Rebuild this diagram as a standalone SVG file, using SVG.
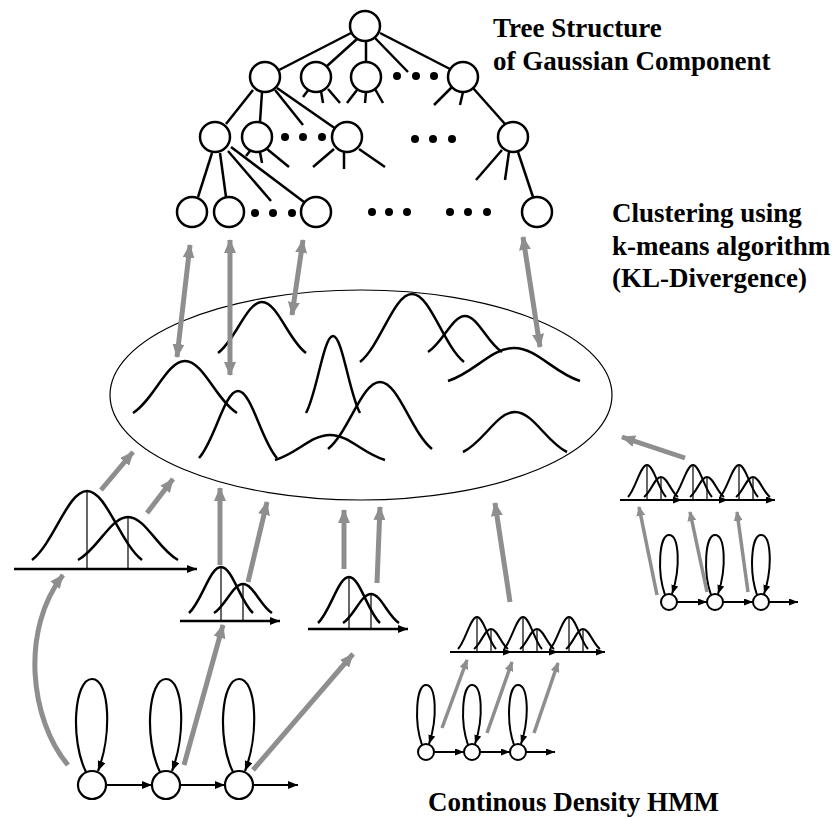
<svg xmlns="http://www.w3.org/2000/svg" width="838" height="819" viewBox="0 0 838 819">
<style>
.nd{fill:#fff;stroke:#000;stroke-width:2.5}
.ed{stroke:#000;stroke-width:2.5;fill:none}
.dot{fill:#000}
.gc{stroke:#000;stroke-width:2.5;fill:none}
.gcs{stroke:#000;stroke-width:2;fill:none}
.vl{stroke:#000;stroke-width:1.2}
.ax{stroke:#000;stroke-width:2.5;marker-end:url(#bh)}
.axs{stroke:#000;stroke-width:2;marker-end:url(#bhs)}
.ga{stroke:#8e8e8e;stroke-width:5;fill:none;marker-end:url(#gh)}
.gd{stroke:#8e8e8e;stroke-width:5;fill:none;marker-start:url(#gh);marker-end:url(#gh)}
.gm{stroke:#8e8e8e;stroke-width:3.5;fill:none;marker-end:url(#ghs)}
.hs{fill:#fff;stroke:#000;stroke-width:2.2}
.lp{fill:none;stroke:#000;stroke-width:2.2;marker-end:url(#bh)}
.lps{fill:none;stroke:#000;stroke-width:2;marker-end:url(#bhs)}
.tr{stroke:#000;stroke-width:2.2;marker-end:url(#bh)}
.trs{stroke:#000;stroke-width:2;marker-end:url(#bhs)}
</style>
<defs>
<marker id="gh" viewBox="0 0 14 12" markerWidth="14" markerHeight="12" refX="13" refY="6" orient="auto-start-reverse" markerUnits="userSpaceOnUse"><path d="M0 0L14 6L0 12z" fill="#8e8e8e"/></marker>
<marker id="ghs" viewBox="0 0 10 9" markerWidth="10" markerHeight="9" refX="9" refY="4.5" orient="auto" markerUnits="userSpaceOnUse"><path d="M0 0L10 4.5L0 9z" fill="#8e8e8e"/></marker>
<marker id="bh" viewBox="0 0 10 8" markerWidth="10" markerHeight="8" refX="10" refY="4" orient="auto" markerUnits="userSpaceOnUse"><path d="M0 0L10 4L0 8z" fill="#000"/></marker>
<marker id="bhs" viewBox="0 0 9 7" markerWidth="9" markerHeight="7" refX="9" refY="3.5" orient="auto" markerUnits="userSpaceOnUse"><path d="M0 0L9 3.5L0 7z" fill="#000"/></marker>
<path id="gs" d="M-1 0C-0.6 -0.25 -0.35 -1 0 -1C0.35 -1 0.6 -0.25 1 0" vector-effect="non-scaling-stroke"/>
<g id="row">
<line class="axs" x1="0" y1="0" x2="62" y2="0"/>
<line class="axs" x1="62" y1="0" x2="108" y2="0"/>
<line class="axs" x1="108" y1="0" x2="155" y2="0"/>
<use href="#gs" class="gcs" transform="translate(27 -3) scale(19 32)"/>
<use href="#gs" class="gcs" transform="translate(41 -3) scale(17 20)"/>
<use href="#gs" class="gcs" transform="translate(73 -3) scale(19 32)"/>
<use href="#gs" class="gcs" transform="translate(87 -3) scale(17 20)"/>
<use href="#gs" class="gcs" transform="translate(119 -3) scale(19 32)"/>
<use href="#gs" class="gcs" transform="translate(133 -3) scale(17 20)"/>
<line class="vl" x1="27" y1="-35" x2="27" y2="0"/>
<line class="vl" x1="41" y1="-23" x2="41" y2="0"/>
<line class="vl" x1="73" y1="-35" x2="73" y2="0"/>
<line class="vl" x1="87" y1="-23" x2="87" y2="0"/>
<line class="vl" x1="119" y1="-35" x2="119" y2="0"/>
<line class="vl" x1="133" y1="-23" x2="133" y2="0"/>
</g>
<g id="hmms">
<path class="lps" d="M-4 -7C-12 -30 -10 -67 0 -67C10 -67 12 -35 3 -8"/>
<path class="lps" d="M42 -7C34 -30 36 -67 46 -67C56 -67 58 -35 49 -8"/>
<path class="lps" d="M88 -7C80 -30 82 -67 92 -67C102 -67 104 -35 95 -8"/>
<circle class="hs" cx="0" cy="0" r="8" style="stroke-width:2"/>
<circle class="hs" cx="46" cy="0" r="8" style="stroke-width:2"/>
<circle class="hs" cx="92" cy="0" r="8" style="stroke-width:2"/>
<line class="trs" x1="8" y1="0" x2="38" y2="0"/>
<line class="trs" x1="54" y1="0" x2="84" y2="0"/>
<line class="trs" x1="100" y1="0" x2="129" y2="0"/>
</g>
</defs>

<g id="edges">
<line class="ed" x1="351" y1="33" x2="279" y2="70"/>
<line class="ed" x1="357" y1="39" x2="327" y2="66"/>
<line class="ed" x1="366" y1="41" x2="366" y2="62"/>
<line class="ed" x1="375" y1="38" x2="408" y2="72"/>
<line class="ed" x1="380" y1="33" x2="450" y2="69"/>
<line class="ed" x1="303" y1="97" x2="309" y2="89"/>
<line class="ed" x1="323" y1="103" x2="321" y2="91"/>
<line class="ed" x1="340" y1="103" x2="328" y2="89"/>
<line class="ed" x1="347" y1="103" x2="357" y2="90"/>
<line class="ed" x1="365" y1="103" x2="366" y2="92"/>
<line class="ed" x1="383" y1="103" x2="375" y2="89"/>
<line class="ed" x1="434" y1="105" x2="452" y2="87"/>
<line class="ed" x1="460" y1="105" x2="463" y2="92"/>
<line class="ed" x1="473" y1="88" x2="505" y2="124"/>
<line class="ed" x1="253" y1="90" x2="226" y2="124"/>
<line class="ed" x1="262" y1="92" x2="260" y2="122"/>
<line class="ed" x1="275" y1="90" x2="303" y2="125"/>
<line class="ed" x1="277" y1="88" x2="336" y2="129"/>
<line class="ed" x1="246" y1="156" x2="250" y2="151"/>
<line class="ed" x1="262" y1="163" x2="260" y2="152"/>
<line class="ed" x1="289" y1="167" x2="267" y2="149"/>
<line class="ed" x1="313" y1="167" x2="334" y2="149"/>
<line class="ed" x1="344" y1="169" x2="344" y2="152"/>
<line class="ed" x1="385" y1="167" x2="359" y2="149"/>
<line class="ed" x1="476" y1="180" x2="502" y2="150"/>
<line class="ed" x1="505" y1="180" x2="509" y2="152"/>
<line class="ed" x1="518" y1="152" x2="533" y2="197"/>
<line class="ed" x1="212" y1="153" x2="198" y2="197"/>
<line class="ed" x1="220" y1="153" x2="226" y2="197"/>
<line class="ed" x1="228" y1="151" x2="271" y2="201"/>
<line class="ed" x1="231" y1="147" x2="304" y2="202"/>
</g>

<g id="tree-nodes">
<circle id="root" class="nd" cx="365" cy="26" r="15"/>
<circle id="n1a" class="nd" cx="265" cy="77" r="15"/>
<circle id="n1b" class="nd" cx="316" cy="77" r="15"/>
<circle id="n1c" class="nd" cx="366" cy="77" r="15"/>
<circle id="n1d" class="nd" cx="463" cy="77" r="15"/>
<circle id="n2f" class="nd" cx="215" cy="137" r="15"/>
<circle id="n2g" class="nd" cx="257" cy="137" r="15"/>
<circle id="n2h" class="nd" cx="347" cy="137" r="15"/>
<circle id="n2e" class="nd" cx="513" cy="137" r="15"/>
<circle id="l1" class="nd" cx="192" cy="212" r="15"/>
<circle id="l2" class="nd" cx="229" cy="212" r="15"/>
<circle id="l3" class="nd" cx="316" cy="212" r="15"/>
<circle id="l4" class="nd" cx="537" cy="212" r="15"/>
<g id="dots">
<circle class="dot" cx="397" cy="76" r="4"/><circle class="dot" cx="416" cy="76" r="4"/><circle class="dot" cx="434" cy="76" r="4"/>
<circle class="dot" cx="285" cy="137" r="4"/><circle class="dot" cx="303" cy="137" r="4"/><circle class="dot" cx="322" cy="137" r="4"/>
<circle class="dot" cx="415" cy="139" r="4"/><circle class="dot" cx="433" cy="139" r="4"/><circle class="dot" cx="452" cy="139" r="4"/>
<circle class="dot" cx="255" cy="213" r="4"/><circle class="dot" cx="273" cy="213" r="4"/><circle class="dot" cx="292" cy="213" r="4"/>
<circle class="dot" cx="372" cy="212" r="4"/><circle class="dot" cx="389" cy="212" r="4"/><circle class="dot" cx="407" cy="212" r="4"/>
<circle class="dot" cx="450" cy="212" r="4"/><circle class="dot" cx="468" cy="212" r="4"/><circle class="dot" cx="487" cy="212" r="4"/>
</g>
</g>

<g id="cluster">
<ellipse cx="361" cy="395" rx="251" ry="105" fill="none" stroke="#000" stroke-width="1.2"/>
<use href="#gs" class="gc" transform="translate(262 353) scale(44 51)"/>
<use href="#gs" class="gc" transform="translate(185 413) scale(52 52)"/>
<use href="#gs" class="gc" transform="translate(333 413) scale(27 77)"/>
<use href="#gs" class="gc" transform="translate(412 362) scale(52 68)"/>
<use href="#gs" class="gc" transform="translate(465 352) scale(37 36)"/>
<use href="#gs" class="gc" transform="translate(514 381) scale(66 33)"/>
<use href="#gs" class="gc" transform="translate(238 458) scale(39 67)"/>
<use href="#gs" class="gc" transform="translate(330 460) scale(55 25)"/>
<use href="#gs" class="gc" transform="translate(380 449) scale(52 67)"/>
<use href="#gs" class="gc" transform="translate(515 452) scale(52 40)"/>
</g>

<g id="mix-left">
<line class="ax" x1="14" y1="569" x2="197" y2="569"/>
<use href="#gs" class="gc" transform="translate(87 560) scale(55 69)"/>
<use href="#gs" class="gc" transform="translate(128 560) scale(50 43)"/>
<line class="vl" x1="87" y1="491" x2="87" y2="569"/>
<line class="vl" x1="128" y1="517" x2="128" y2="569"/>
</g>
<g id="mix-2">
<line class="ax" x1="180" y1="621" x2="280" y2="621"/>
<use href="#gs" class="gc" transform="translate(221 613) scale(32 46)"/>
<use href="#gs" class="gc" transform="translate(243 613) scale(29 29)"/>
<line class="vl" x1="221" y1="567" x2="221" y2="621"/>
<line class="vl" x1="243" y1="584" x2="243" y2="621"/>
</g>
<g id="mix-3">
<line class="ax" x1="308" y1="629" x2="408" y2="629"/>
<use href="#gs" class="gc" transform="translate(349 623) scale(31 46)"/>
<use href="#gs" class="gc" transform="translate(371 623) scale(28 29)"/>
<line class="vl" x1="349" y1="577" x2="349" y2="629"/>
<line class="vl" x1="371" y1="594" x2="371" y2="629"/>
</g>
<g id="row-mid"><use href="#row" transform="translate(450 652)"/></g>
<g id="row-right"><use href="#row" transform="translate(620 500)"/></g>

<g id="hmm-left">
<path class="lp" d="M86 772C70 740 74 679 92 679C110 679 112 735 98 771"/>
<path class="lp" d="M160 772C144 740 148 679 166 679C184 679 186 735 172 771"/>
<path class="lp" d="M233 772C217 740 221 679 239 679C257 679 259 735 245 771"/>
<circle class="hs" cx="92" cy="785" r="14"/>
<circle class="hs" cx="166" cy="785" r="14"/>
<circle class="hs" cx="239" cy="785" r="14"/>
<line class="tr" x1="106" y1="785" x2="152" y2="785"/>
<line class="tr" x1="180" y1="785" x2="225" y2="785"/>
<line class="tr" x1="253" y1="785" x2="298" y2="785"/>
</g>
<g id="hmm-mid"><use href="#hmms" transform="translate(426 752)"/></g>
<g id="hmm-right"><use href="#hmms" transform="translate(669 602)"/></g>

<g id="connectors">
<line class="gd" x1="190" y1="245" x2="177" y2="357"/>
<line class="gd" x1="230" y1="240" x2="230" y2="375"/>
<line class="gd" x1="303" y1="240" x2="292" y2="315"/>
<line class="gd" x1="523" y1="237" x2="540" y2="347"/>
<line class="ga" x1="685" y1="458" x2="622" y2="437"/>
<line class="ga" x1="101" y1="490" x2="133" y2="452"/>
<line class="ga" x1="147" y1="513" x2="173" y2="479"/>
<path class="ga" d="M68 765C30 720 20 630 63 575"/>
<line class="ga" x1="220" y1="565" x2="220" y2="488"/>
<line class="ga" x1="248" y1="582" x2="267" y2="502"/>
<line class="ga" x1="344" y1="569" x2="344" y2="510"/>
<line class="ga" x1="377" y1="583" x2="380" y2="507"/>
<line class="ga" x1="184" y1="765" x2="223" y2="625"/>
<line class="ga" x1="253" y1="770" x2="353" y2="654"/>
<line class="ga" x1="510" y1="602" x2="495" y2="503"/>
<line class="gm" x1="442" y1="728" x2="467" y2="660"/>
<line class="gm" x1="487" y1="733" x2="512" y2="662"/>
<line class="gm" x1="534" y1="733" x2="558" y2="663"/>
<line class="gm" x1="657" y1="595" x2="639" y2="507"/>
<line class="gm" x1="707" y1="592" x2="690" y2="512"/>
<line class="gm" x1="748" y1="592" x2="737" y2="512"/>
</g>

<g id="labels" font-family="'Liberation Serif', 'DejaVu Serif', serif" font-weight="bold" font-size="27" fill="#000">
<text x="493" y="37">Tree Structure</text>
<text x="493" y="70">of Gaussian Component</text>
<text x="612" y="222">Clustering using</text>
<text x="612" y="255">k-means algorithm</text>
<text x="612" y="287">(KL-Divergence)</text>
<text x="428" y="811">Continous Density HMM</text>
</g>
</svg>
